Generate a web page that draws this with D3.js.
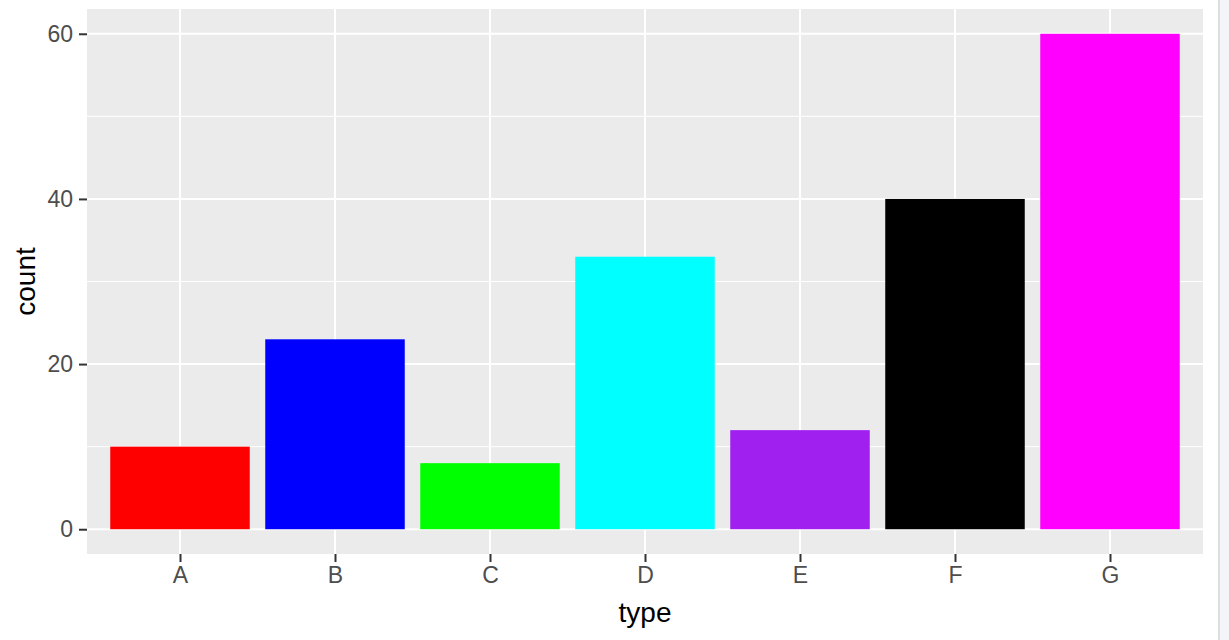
<!DOCTYPE html>
<html>
<head>
<meta charset="utf-8">
<script src="https://cdn.jsdelivr.net/npm/d3@7"></script>
<style>
  html, body { margin: 0; padding: 0; background: #fff; }
  svg { display: block; }
</style>
</head>
<body>
<svg id="chart" width="1229" height="640"></svg>
<script>
const categories = ["A", "B", "C", "D", "E", "F", "G"];
const counts = [10, 23, 8, 33, 12, 40, 60];
const barColors = ["#FF0000", "#0000FF", "#00FF00", "#00FFFF", "#A020F0", "#000000", "#FF00FF"];
const yTicks = [0, 20, 40, 60];
const yMinorTicks = [10, 30, 50];

const svg = d3.select("#chart");
const W = 1229, H = 640;
const panel = { left: 87, top: 9, right: 1203, bottom: 554 };

// scroll strip at right edge
svg.append("rect").attr("x", 1218).attr("y", 0).attr("width", 11).attr("height", H).attr("fill", "#f3f5f8");
svg.append("rect").attr("x", 1218).attr("y", 0).attr("width", 2).attr("height", H).attr("fill", "#dcdee1");

const yMax = 60, yExp = 0.05 * 60;
const y = d3.scaleLinear().domain([0 - yExp, yMax + yExp]).range([panel.bottom, panel.top]);

const n = categories.length;
const step = (panel.right - panel.left) / (n - 1 + 1.2);
const x = d3.scalePoint().domain(categories)
  .range([panel.left + 0.6 * step, panel.right - 0.6 * step]);
const barW = 0.9 * step;

// panel background
svg.append("rect")
  .attr("x", panel.left).attr("y", panel.top)
  .attr("width", panel.right - panel.left).attr("height", panel.bottom - panel.top)
  .attr("fill", "#EBEBEB");

// minor gridlines
svg.append("g").selectAll("line").data(yMinorTicks).join("line")
  .attr("x1", panel.left).attr("x2", panel.right)
  .attr("y1", d => y(d)).attr("y2", d => y(d))
  .attr("stroke", "#fff").attr("stroke-width", 1);

// major gridlines
svg.append("g").selectAll("line").data(yTicks).join("line")
  .attr("x1", panel.left).attr("x2", panel.right)
  .attr("y1", d => y(d)).attr("y2", d => y(d))
  .attr("stroke", "#fff").attr("stroke-width", 2);
svg.append("g").selectAll("line").data(categories).join("line")
  .attr("x1", d => x(d)).attr("x2", d => x(d))
  .attr("y1", panel.top).attr("y2", panel.bottom)
  .attr("stroke", "#fff").attr("stroke-width", 2);

// bars
svg.append("g").selectAll("rect").data(categories).join("rect")
  .attr("x", d => x(d) - barW / 2)
  .attr("width", barW)
  .attr("y", (d, i) => y(counts[i]))
  .attr("height", (d, i) => y(0) - y(counts[i]))
  .attr("fill", (d, i) => barColors[i]);

// axes
const font = "'Liberation Sans', Arial, sans-serif";
const yAxis = svg.append("g")
  .attr("transform", `translate(${panel.left},0)`)
  .call(d3.axisLeft(y).tickValues(yTicks).tickSize(8).tickPadding(6).tickFormat(d3.format("d")));
const xAxis = svg.append("g")
  .attr("transform", `translate(0,${panel.bottom})`)
  .call(d3.axisBottom(x).tickSize(8).tickPadding(5));

[yAxis, xAxis].forEach(g => {
  g.select(".domain").remove();
  g.selectAll(".tick line").attr("stroke", "#333333").attr("stroke-width", 2);
  g.selectAll(".tick text").attr("fill", "#4D4D4D")
    .style("font-family", font).style("font-size", "23px");
});

// axis titles
svg.append("text")
  .attr("x", (panel.left + panel.right) / 2).attr("y", 622)
  .attr("text-anchor", "middle")
  .style("font-family", font).style("font-size", "28px").attr("fill", "#000")
  .text("type");
svg.append("text")
  .attr("transform", `translate(35,${(panel.top + panel.bottom) / 2}) rotate(-90)`)
  .attr("text-anchor", "middle")
  .style("font-family", font).style("font-size", "28px").attr("fill", "#000")
  .text("count");
</script>
</body>
</html>
